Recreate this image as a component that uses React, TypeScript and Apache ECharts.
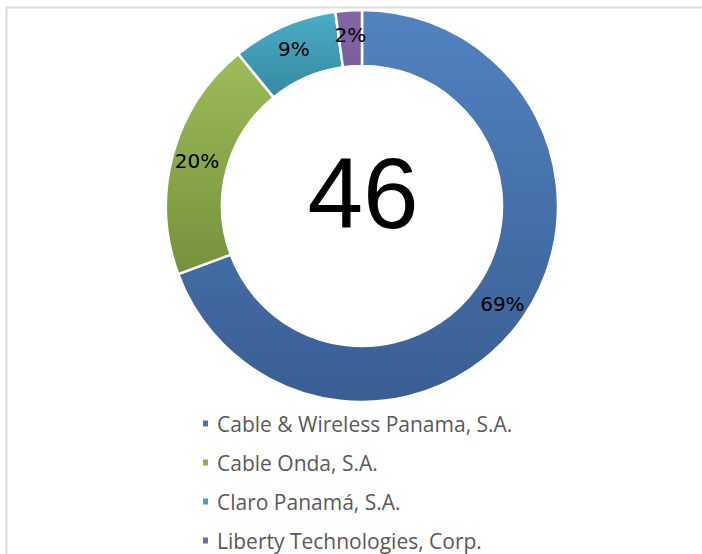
import React, { useEffect, useRef } from "react";
import * as echarts from "echarts";

const categories = [
  "Cable & Wireless Panama, S.A.",
  "Cable Onda, S.A.",
  "Claro Panamá, S.A.",
  "Liberty Technologies, Corp.",
];
const values = [31.9, 9.1, 4.0, 1.0];
const centerLabel = "46";
const colorTop = ["#5283C1", "#9DBC59", "#4BADC7", "#8466A6"];
const colorBottom = ["#395E93", "#75913C", "#358A9F", "#7A5E9C"];
const legendColors = ["#4A76AE", "#8FAF4E", "#45A2BA", "#8064A2"];

export default function App() {
  const ref = useRef<HTMLDivElement>(null);
  useEffect(() => {
    if (!ref.current) return;
    const chart = echarts.init(ref.current, undefined, { renderer: "svg" });
    const data = categories.map((name, i) => ({
      name,
      value: values[i],
      itemStyle: {
        color: new echarts.graphic.LinearGradient(0, 0, 0, 1, [
          { offset: 0, color: colorTop[i] },
          { offset: 1, color: colorBottom[i] },
        ]),
      },
    }));
    chart.setOption({
      animation: false,
      backgroundColor: "#ffffff",
      graphic: [
        {
          type: "rect",
          shape: { x: 6.5, y: 7.5, width: 720, height: 580 },
          style: { fill: "none", stroke: "#dcdcdc", lineWidth: 2 },
          silent: true,
        },
        {
          type: "text",
          x: 363,
          y: 193,
          style: {
            text: centerLabel,
            fontFamily: "Liberation Sans",
            fontSize: 100,
            fill: "#000000",
            align: "center",
            verticalAlign: "middle",
          },
        },
      ],
      legend: {
        orient: "vertical",
        left: 201,
        top: 413,
        width: 480,
        height: 220,
        padding: 0,
        itemWidth: 7,
        itemHeight: 8,
        itemGap: 18,
        icon: "rect",
        data: categories.map((name, i) => ({
          name,
          itemStyle: { color: legendColors[i] },
        })),
        textStyle: {
          fontFamily: "Open Sans",
          fontSize: 21,
          color: "#595959",
          lineHeight: 20,
          padding: [0, 0, 0, 3],
        },
      },
      series: [
        {
          type: "pie",
          center: [362, 206],
          radius: [140, 196],
          startAngle: 90,
          clockwise: true,
          avoidLabelOverlap: false,
          itemStyle: { borderColor: "#ffffff", borderWidth: 2.5 },
          label: {
            show: true,
            position: "inside",
            formatter: (p: any) => Math.round(p.percent) + "%",
            fontFamily: "DejaVu Sans",
            fontSize: 20,
            color: "#000000",
          },
          labelLine: { show: false },
          emphasis: { disabled: true },
          data,
        },
      ],
    });
    return () => chart.dispose();
  }, []);
  return (
    <div
      ref={ref}
      style={{ position: "fixed", left: 0, top: 0, width: 702, height: 554 }}
    />
  );
}
